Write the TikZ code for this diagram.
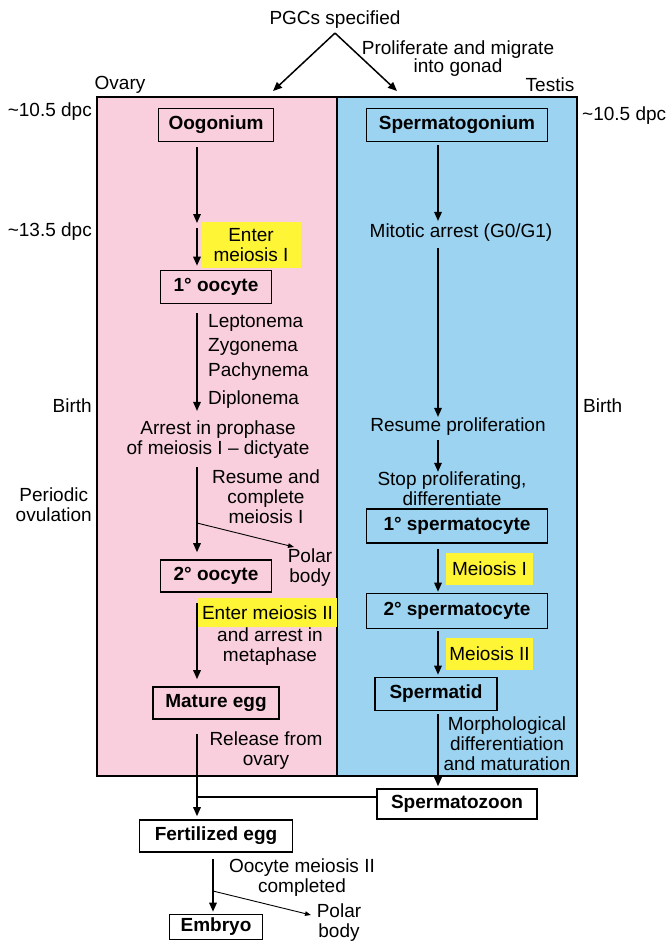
\documentclass[tikz,border=0pt]{standalone}
\usepackage{fontspec}
\setmainfont{Liberation Sans}
\usetikzlibrary{arrows.meta}
\definecolor{pinkbg}{RGB}{249,207,221}
\definecolor{bluebg}{RGB}{155,211,241}
\definecolor{hly}{RGB}{255,245,55}
\begin{document}
\begin{tikzpicture}[x=1pt,y=-1pt,
  every node/.style={font=\fontsize{19}{20}\selectfont, inner sep=0pt},
  cell/.style={draw, line width=1.6pt, font=\fontsize{19}{20}\selectfont\bfseries, minimum height=33},
  txt/.style={align=center},
  hl/.style={fill=hly, align=center},
  arr/.style={line width=1.5pt, -{Triangle[length=9pt,width=7.5pt]}},
  thinarr/.style={line width=0.9pt, -{Triangle[length=6pt,width=4.5pt]}},
  frame/.style={line width=1.6pt}]
\useasboundingbox (0,0) rectangle (668,945);
% panels
\fill[pinkbg] (97,97) rectangle (337,776);
\fill[bluebg] (337,97) rectangle (577,776);
\draw[frame] (97,97) rectangle (577,776);
\draw[frame] (337,97) -- (337,776);

% top
\node (pgc) at (335,20) {PGCs specified};
\node[txt] (prolif) at (458,59) {Proliferate and migrate\\[-2pt]into gonad};
\node (ovary) at (120,85) {Ovary};
\node (testis) at (550,85) {Testis};
\coordinate (apex) at ([yshift=-4pt]pgc.south);
\coordinate (tipL) at (273,91);
\coordinate (tipR) at (397,91);
\draw[arr] (apex) -- (tipL);
\draw[arr] (apex) -- (tipR);

% side labels
\node[anchor=east] (d105l) at (92,112) {\textasciitilde 10.5 dpc};
\node[anchor=east] (d135) at (92,232) {\textasciitilde 13.5 dpc};
\node[anchor=east] (birthl) at (92,406) {Birth};
\node[anchor=east, txt] (ovul) at (92,505) {Periodic\\ovulation};
\node[anchor=west] (d105r) at (582,116) {\textasciitilde 10.5 dpc};
\node[anchor=west] (birthr) at (583,406) {Birth};

% female axis
\coordinate (fx) at (197,0);
\node[cell, minimum width=115] (oog) at (216,125) {Oogonium};
\node[hl, minimum width=99, minimum height=46] (emI) at (251,245) {Enter\\meiosis I};
\node[cell, minimum width=111] (oo1) at (216,287) {1\textdegree{} oocyte};
\coordinate (c1) at (197,223);
\coordinate (c2) at (197,228);
\draw[arr] ([yshift=-5pt]oog.south -| fx) -- (c1);
\draw[arr, shorten >=4pt] (c2) -- (oo1.north -| fx);

\node[anchor=west] (lep) at (208,323) {Leptonema};
\node[anchor=west] (zyg) at (208,347) {Zygonema};
\node[anchor=west] (pach) at (208,372) {Pachynema};
\node[anchor=west] (dipl) at (208,400) {Diplonema};
\node[txt] (arrest) at (218,440) {Arrest in prophase\\of meiosis I -- dictyate};
\draw[arr, shorten >=10pt] ([yshift=-9pt]oo1.south -| fx) -- (arrest.north -| fx);

\node[txt] (resume) at (266,497) {Resume and\\complete\\meiosis I};
\node[cell, minimum width=111, minimum height=32] (oo2) at (216,576) {2\textdegree{} oocyte};
\draw[arr] ([yshift=-8pt]arrest.south -| fx) -- ([yshift=7pt]oo2.north -| fx);
\coordinate (pb1s) at (197,523);
\coordinate (pb1e) at (294,547);
\node[txt] (pb1) at (310,568) {Polar\\body};
\draw[thinarr] (pb1s) -- (pb1e);

\node[hl, minimum width=139, minimum height=29] (emII) at (267.5,612.5) {Enter meiosis II};
\node[txt] (arrII) at (270,647) {and arrest in\\metaphase};
\node[cell, minimum width=126, minimum height=32] (egg) at (216,703) {Mature egg};
\draw[arr] ([yshift=-10pt]oo2.south -| fx) -- ([yshift=7pt]egg.north -| fx);
\node[txt] (release) at (266,751) {Release from\\ovary};

% bottom
\node[cell, minimum width=153, minimum height=32] (fert) at (216,836) {Fertilized egg};
\node[cell, minimum width=160, minimum height=30] (spz) at (457,804) {Spermatozoon};
\coordinate (join) at (197,797);
\draw[arr] ([yshift=-14pt]egg.south -| fx) -- ([yshift=3pt]fert.north -| fx);
\draw[frame] (spz.west |- join) -- (join);

\coordinate (ex) at (213,0);
\node[cell, minimum width=93, minimum height=25] (emb) at (216,927) {Embryo};
\node[txt] (oomII) at (302,878) {Oocyte meiosis II\\completed};
\draw[arr] ([yshift=-6pt]fert.south -| ex) -- ([yshift=2pt]emb.north -| ex);
\coordinate (pb2s) at (213,891);
\coordinate (pb2e) at (311,915);
\node[txt] (pb2) at (339,923) {Polar\\body};
\draw[thinarr] (pb2s) -- (pb2e);

% male axis
\coordinate (mx) at (438,0);
\node[cell, minimum width=181] (spg) at (457,125) {Spermatogonium};
\node (mit) at (461,233) {Mitotic arrest (G0/G1)};
\draw[arr] ([yshift=-3pt]spg.south -| mx) -- ([yshift=3pt]mit.north -| mx);
\node (resp) at (458,427) {Resume proliferation};
\draw[arr] ([yshift=-6pt]mit.south -| mx) -- ([yshift=1pt]resp.north -| mx);
\node[txt] (stop) at (452,489) {Stop proliferating,\\differentiate};
\draw[arr] ([yshift=-4pt]resp.south -| mx) -- (stop.north -| mx);
\node[cell, minimum width=181, minimum height=34] (sc1) at (457,526) {1\textdegree{} spermatocyte};
\node[hl, minimum width=87, minimum height=32] (mI) at (489.5,569) {Meiosis I};
\node[cell, minimum width=181, minimum height=35] (sc2) at (457,611) {2\textdegree{} spermatocyte};
\node[hl, minimum width=87, minimum height=32] (mII) at (489.5,654) {Meiosis II};
\node[cell, minimum width=122, minimum height=33] (std) at (436,694) {Spermatid};
\draw[arr] ([yshift=-5pt]sc1.south -| mx) -- ([yshift=1pt]sc2.north -| mx);
\draw[arr] ([yshift=-2pt]sc2.south -| mx) -- ([yshift=2pt]std.north -| mx);
\node[txt] (morph) at (507,744) {Morphological\\differentiation\\and maturation};
\draw[arr] ([yshift=-3pt]std.south -| mx) -- ([yshift=2pt]spz.north -| mx);
\end{tikzpicture}
\end{document}
